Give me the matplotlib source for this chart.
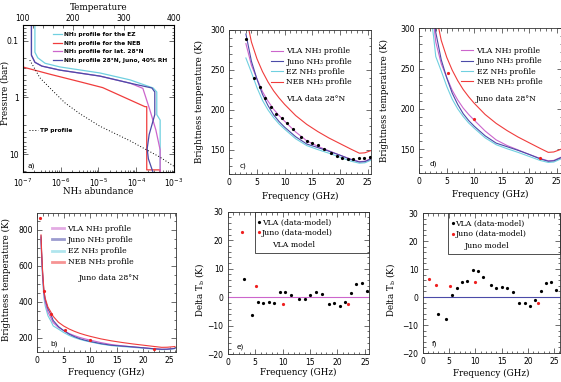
import matplotlib
matplotlib.use('Agg')
import numpy as np
import matplotlib.pyplot as plt
from matplotlib.ticker import MultipleLocator, FixedLocator, FormatStrFormatter, LogLocator, NullFormatter
from matplotlib.lines import Line2D
from matplotlib.patches import Rectangle

plt.rcParams['font.family'] = 'DejaVu Sans'
plt.rcParams['mathtext.default'] = 'regular'

# ---- panel a: NH3 abundance profiles vs pressure (bar)
ez_abund = [2.1e-7, 2.1e-7, 2.5e-7, 3.9e-7, 9.7e-7, 1.1e-5, 6.9e-5, 2.8e-4, 3.5e-4, 3.5e-4, 4.3e-4, 4.3e-4]
ez_p = [0.05, 0.16, 0.20, 0.25, 0.29, 0.37, 0.49, 0.68, 0.80, 2.0, 2.5, 21]
neb_abund = [8e-8, 1e-7, 5.3e-7, 3.3e-6, 1.3e-5, 1.7e-4, 1.9e-4, 1.9e-4, 4.3e-4, 4.3e-4]
neb_p = [0.28, 0.29, 0.39, 0.53, 0.67, 1.45, 1.45, 18.8, 18.8, 21]
lat28_abund = [1.7e-7, 1.7e-7, 2.1e-7, 3.2e-7, 9.7e-7, 1.1e-5, 6.9e-5, 1.5e-4, 2.3e-4, 3.3e-4, 4.3e-4, 4.3e-4]
lat28_p = [0.05, 0.18, 0.24, 0.28, 0.33, 0.42, 0.56, 0.69, 1.66, 3.7, 8.4, 21]
juno40_abund = [1.7e-7, 1.7e-7, 2.1e-7, 3.2e-7, 9.7e-7, 1.1e-5, 6.9e-5, 2.6e-4, 3.1e-4, 3.1e-4, 2.2e-4, 1.95e-4, 2.1e-4, 2.8e-4]
juno40_p = [0.05, 0.18, 0.24, 0.28, 0.33, 0.42, 0.56, 0.68, 0.80, 2.0, 4.5, 8.0, 12.0, 21]
tp_temp = [114, 134, 158, 184, 214, 253, 313, 372, 402]
tp_p = [0.22, 0.45, 0.74, 1.25, 1.95, 3.2, 5.8, 11.2, 16.7]

# ---- model brightness temperatures (K) vs frequency (GHz)
model_freq = [0.7, 0.8, 1.0, 1.25, 1.5, 2.0, 2.6, 3, 4, 5, 6, 7, 8, 9, 10, 12, 14, 16, 18, 20, 22, 23.5, 24.5, 25.5, 26]
tb_vla = [755, 665, 545, 440, 395, 342, 308, 283, 256, 239, 223, 211, 201, 193, 186, 172.5, 161.5, 154.5, 149, 143.5, 138.5, 135.5, 136, 139, 140.5]
tb_juno = [765, 680, 560, 454, 410, 360, 326, 295, 261, 238.5, 219.5, 205.5, 194, 185.5, 178.5, 166.5, 157.5, 153, 148.5, 143.5, 138, 135, 135.5, 138.5, 140]
tb_ez = [745, 650, 525, 420, 375, 322, 290, 265, 247, 228, 212, 200, 190.5, 182.5, 176, 164, 155.5, 150.5, 146, 141, 136, 133.5, 134, 137, 138.5]
tb_neb = [770, 690, 570, 462, 418, 370, 340, 318, 285, 264, 248, 235, 224, 215, 207, 193, 182, 173, 165, 158, 151, 146, 146.5, 149, 150.5]

# ---- observations
vla_freq = [3.0, 4.5, 5.5, 6.5, 7.5, 8.5, 9.5, 10.5, 11.5, 13.0, 14.0, 15.0, 16.0, 17.2, 18.4, 19.4, 20.4, 21.4, 22.4, 23.4, 24.4, 25.4]
vla_tb = [288.8, 240.1, 228.5, 214.5, 204.1, 194.6, 190.5, 183.5, 176.0, 165.7, 160.7, 158.3, 156.6, 151.2, 145.9, 143.0, 139.7, 138.8, 138.8, 139.7, 140.1, 140.9]
juno_freq = [0.6, 1.25, 2.6, 5.2, 10.0, 22.0]
juno_tb = [862, 460, 331, 244, 187, 139]

# ---- residuals (data - model)
dvla_vla = [6.3, -6.2, -1.8, -2.1, -1.5, -2.1, 1.7, 2.0, 0.8, -0.6, -0.6, 0.8, 2.0, 1.0, -2.4, -2.1, -3.1, -1.5, 1.6, 4.5, 4.9, 2.2]
dvla_juno_freq = [2.6, 5.2, 10.0, 22.0]
dvla_juno = [23.0, 3.9, -2.4, -2.4]
djuno_vla = [-6.0, -7.9, 0.7, 3.1, 5.4, 5.7, 9.6, 9.4, 7.3, 4.3, 3.2, 3.5, 3.3, 1.7, -2.2, -2.0, -3.1, -1.0, 2.2, 4.9, 5.4, 2.6]
djuno_juno_freq = [1.25, 2.6, 5.2, 10.0, 22.0]
djuno_juno = [6.3, 4.3, 4.1, 5.5, -2.2]

c_vla = '#cc66cc'
c_juno = '#4b4ba8'
c_ez = '#70d0e0'
c_neb = '#f03c3c'
c_dot = '#ee2020'
frame = '#333333'
serif = 'DejaVu Serif'

lab_vla = 'VLA NH₃ profile'
lab_juno = 'Juno NH₃ profile'
lab_ez = 'EZ NH₃ profile'
lab_neb = 'NEB NH₃ profile'

fig = plt.figure(figsize=(5.61, 3.82), dpi=100)


def style(ax, xmaj, xmin, ymaj, ymin):
    ax.xaxis.set_major_locator(MultipleLocator(xmaj))
    ax.xaxis.set_minor_locator(MultipleLocator(xmin))
    ax.yaxis.set_major_locator(MultipleLocator(ymaj))
    ax.yaxis.set_minor_locator(MultipleLocator(ymin))
    ax.tick_params(which='both', direction='in', top=True, right=True,
                   labelsize=5.5, pad=3, width=0.5, color=frame)
    ax.tick_params(which='major', length=3.5)
    ax.tick_params(which='minor', length=1.8)
    for s in ax.spines.values():
        s.set_linewidth(0.6)
        s.set_color(frame)


def label(ax, xl, yl, ylx, yly, xly):
    ax.set_xlabel(xl, fontsize=6.3, family=serif)
    ax.set_ylabel(yl, fontsize=6.3, family=serif)
    ax.yaxis.set_label_coords(ylx, yly)
    ax.xaxis.set_label_coords(0.5, xly)


def models(ax, freq):
    sel = np.array(model_freq) >= freq
    f = np.array(model_freq)[sel]
    ax.plot(f, np.array(tb_ez)[sel], color=c_ez, lw=0.8)
    ax.plot(f, np.array(tb_vla)[sel], color=c_vla, lw=0.8)
    ax.plot(f, np.array(tb_juno)[sel], color=c_juno, lw=0.8)
    ax.plot(f, np.array(tb_neb)[sel], color=c_neb, lw=0.8)


def model_legend(ax, x, y, lw=0.8, alpha=1.0, spacing=0.3):
    hs = [Line2D([], [], color=c, lw=lw, alpha=alpha) for c in (c_vla, c_juno, c_ez, c_neb)]
    ax.legend(hs, [lab_vla, lab_juno, lab_ez, lab_neb], loc='upper left', bbox_to_anchor=(x, y),
              frameon=False, prop={'family': serif, 'size': 5.6}, handlelength=1.5,
              handletextpad=0.5, labelspacing=spacing, borderaxespad=0, borderpad=0)


# ---------------- a)
ax_a = fig.add_axes([0.0405, 0.5497, 0.2697, 0.3848])
ax_a.set_xscale('log')
ax_a.set_yscale('log')
l_ez, = ax_a.plot(ez_abund, ez_p, color=c_ez, lw=0.9)
l_neb, = ax_a.plot(neb_abund, neb_p, color=c_neb, lw=0.9)
l_28, = ax_a.plot(lat28_abund, lat28_p, color=c_vla, lw=0.9)
l_j, = ax_a.plot(juno40_abund, juno40_p, color=c_juno, lw=0.9)
ax_a.set_xlim(1e-7, 1e-3)
ax_a.set_ylim(20.5, 0.053)
ax_a.xaxis.set_major_locator(LogLocator(base=10, numticks=10))
ax_a.xaxis.set_minor_locator(LogLocator(base=10, subs=np.arange(2, 10), numticks=10))
ax_a.xaxis.set_minor_formatter(NullFormatter())
ax_a.yaxis.set_major_locator(FixedLocator([0.1, 1, 10]))
ax_a.yaxis.set_major_formatter(FormatStrFormatter('%g'))
ax_a.yaxis.set_minor_locator(LogLocator(base=10, subs=np.arange(2, 10), numticks=10))
ax_a.yaxis.set_minor_formatter(NullFormatter())
ax_a.tick_params(which='both', direction='in', top=False, right=True,
                 labelsize=5.5, pad=3, width=0.5, color=frame)
ax_a.tick_params(which='major', length=3.5)
ax_a.tick_params(which='minor', length=1.8)
for s in ax_a.spines.values():
    s.set_linewidth(0.6)
    s.set_color(frame)
label(ax_a, 'NH₃ abundance', 'Pressure (bar)', -0.09, 0.54, -0.105)
ax_a.legend([l_ez, l_neb, l_28, l_j],
            ['NH₃ profile for the EZ', 'NH₃ profile for the NEB',
             'NH₃ profile for lat. 28°N', 'NH₃ profile 28°N, Juno, 40% RH'],
            loc='upper left', bbox_to_anchor=(0.2, 0.955), frameon=False,
            prop={'weight': 'bold', 'size': 4.2}, handlelength=1.5, handletextpad=0.4,
            labelspacing=0.65, borderaxespad=0, borderpad=0)
ax_a.text(0.03, 0.045, 'a)', transform=ax_a.transAxes, fontsize=5.3, va='center')

ax_t = ax_a.twiny()
l_tp, = ax_t.plot(tp_temp, tp_p, color='k', lw=0.7, ls=(0, (1, 2)))
ax_t.set_xlim(100, 400)
ax_t.xaxis.set_major_locator(MultipleLocator(100))
ax_t.xaxis.set_minor_locator(MultipleLocator(20))
ax_t.tick_params(which='both', direction='in', labelsize=5.5, pad=1.5, width=0.5, color=frame)
ax_t.tick_params(which='major', length=3.5)
ax_t.tick_params(which='minor', length=1.8)
ax_t.set_xlabel('Temperature', fontsize=6.3, family=serif)
ax_t.xaxis.set_label_coords(0.5, 1.10)
ax_t.legend([l_tp], ['TP profile'], loc='center left', bbox_to_anchor=(0.04, 0.28), frameon=False,
            prop={'weight': 'bold', 'size': 4.2}, handlelength=1.5, handletextpad=0.4,
            borderaxespad=0, borderpad=0)

# ---------------- c)
ax_c = fig.add_axes([0.4087, 0.5445, 0.2526, 0.377])
models(ax_c, 3.0)
ax_c.plot(vla_freq, vla_tb, 'o', color='k', ms=2.3, mew=0)
ax_c.set_xlim(0, 25.6)
ax_c.set_ylim(120, 300)
style(ax_c, 5, 1, 50, 10)
label(ax_c, 'Frequency (GHz)', 'Brightness temperature (K)', -0.178, 0.5, -0.125)
model_legend(ax_c, 0.294, 0.88)
ax_c.text(0.40, 0.52, 'VLA data 28°N', transform=ax_c.transAxes, fontsize=5.6, family=serif, va='center')
ax_c.text(0.07, 0.058, 'c)', transform=ax_c.transAxes, fontsize=5.3, va='center')

# ---------------- d)
ax_d = fig.add_axes([0.7474, 0.5463, 0.2544, 0.3796])
models(ax_d, 0.0)
ax_d.plot(juno_freq, juno_tb, 'o', color=c_dot, ms=2.3, mew=0)
ax_d.set_xlim(0, 26)
ax_d.set_ylim(120, 300)
style(ax_d, 5, 1, 50, 10)
label(ax_d, 'Frequency (GHz)', 'Brightness temperature (K)', -0.212, 0.5, -0.115)
model_legend(ax_d, 0.292, 0.87)
ax_d.text(0.397, 0.51, 'Juno data 28°N', transform=ax_d.transAxes, fontsize=5.6, family=serif, va='center')
ax_d.text(0.075, 0.064, 'd)', transform=ax_d.transAxes, fontsize=5.3, va='center')

# ---------------- b)
ax_b = fig.add_axes([0.0665, 0.0785, 0.2472, 0.3631])
models(ax_b, 0.0)
ax_b.plot(juno_freq, juno_tb, 'o', color=c_dot, ms=2.3, mew=0)
ax_b.set_xlim(0, 26.2)
ax_b.set_ylim(120, 890)
style(ax_b, 5, 1, 200, 50)
label(ax_b, 'Frequency (GHz)', 'Brightness temperature (K)', -0.19, 0.52, -0.115)
model_legend(ax_b, 0.106, 0.915, lw=2.0, alpha=0.55, spacing=0.4)
ax_b.text(0.30, 0.531, 'Juno data 28°N', transform=ax_b.transAxes, fontsize=5.6, family=serif, va='center')
ax_b.text(0.092, 0.063, 'b)', transform=ax_b.transAxes, fontsize=5.3, va='center')


# ---------------- e) and f)
def resid(rect, xmax, d_vla, d_juno_f, d_juno, line_c, name, bx, lx, ly, lab_pos):
    ax = fig.add_axes(rect)
    ax.axhline(0, color=line_c, lw=0.8)
    p1, = ax.plot(vla_freq, d_vla, 'o', color='k', ms=2.3, mew=0)
    p2, = ax.plot(d_juno_f, d_juno, 'o', color=c_dot, ms=2.3, mew=0)
    ax.set_xlim(0, xmax)
    ax.set_ylim(-20, 30)
    style(ax, 5, 1, 10, 2)
    label(ax, 'Frequency (GHz)', 'Delta T$_b$ (K)', lx, 0.45, ly)
    ax.add_patch(Rectangle((bx, 0.71), 1 - bx, 0.29, transform=ax.transAxes, fill=False,
                           lw=0.6, ec=frame, clip_on=False))
    ax.legend([p1, p2], ['VLA (data-model)', 'Juno (data-model)'], loc='upper left',
              bbox_to_anchor=(bx + 0.02, 0.95), frameon=False,
              prop={'family': serif, 'size': 5.6}, handlelength=0.4, handletextpad=0.15,
              labelspacing=0.3, borderaxespad=0, borderpad=0)
    ax.text(bx + 0.12, 0.765, name, transform=ax.transAxes, fontsize=5.6, family=serif, va='center')
    ax.text(lab_pos[0], lab_pos[1], lab_pos[2], transform=ax.transAxes, fontsize=5.3, va='center')
    return ax


resid([0.4059, 0.0725, 0.2524, 0.3733], 25.8, dvla_vla, dvla_juno_freq, dvla_juno, c_vla,
      'VLA model', 0.193, -0.155, -0.096, (0.064, 0.054, 'e)'))
resid([0.7535, 0.0759, 0.2447, 0.3665], 26.1, djuno_vla, djuno_juno_freq, djuno_juno, c_juno,
      'Juno model', 0.186, -0.187, -0.114, (0.065, 0.064, 'f)'))

fig.savefig('out.png', dpi=100)
